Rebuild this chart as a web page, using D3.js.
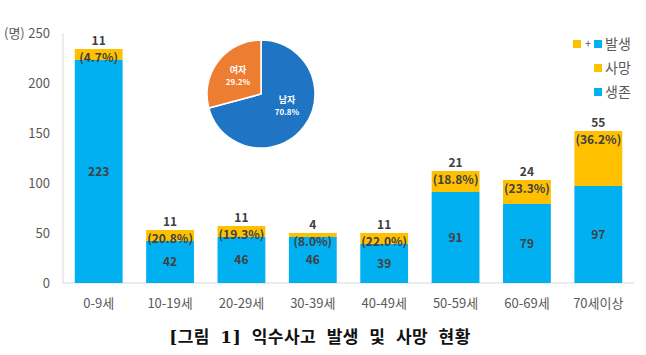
<!DOCTYPE html>
<html><head><meta charset="utf-8">
<script src="https://cdn.jsdelivr.net/npm/d3@7"></script>
<style>
html,body{margin:0;padding:0;background:#fff;}
svg{display:block;font-family:"Noto Sans CJK KR","Open Sans",sans-serif;}
</style></head>
<body>
<svg id="c" width="646" height="355"></svg>
<script>
const categories = ["0-9세","10-19세","20-29세","30-39세","40-49세","50-59세","60-69세","70세이상"];
const survived = [223,42,46,46,39,91,79,97];
const deaths = [11,11,11,4,11,21,24,55];
const deathRates = ["4.7%","20.8%","19.3%","8.0%","22.0%","18.8%","23.3%","36.2%"];
const yTicks = [0,50,100,150,200,250];
const genderLabels = ["남자","여자"];
const genderShares = [70.8,29.2];
const legendLabels = ["발생","사망","생존"];
const title = "[그림 1] 익수사고 발생 및 사망 현황";

const svg = d3.select("#c");
const blue = "#00B0F0", gold = "#FFC000", txt = "#404040", axisTxt = "#595959";

const x = d3.scaleBand().domain(categories).range([63,634]).paddingInner(0.33).paddingOuter(0.165);
const y = d3.scaleLinear().domain([0,250]).range([283,33]);

// axes
svg.append("line").attr("x1",63).attr("x2",63).attr("y1",y(250)).attr("y2",y(0)).attr("stroke","#d9d9d9");
svg.append("line").attr("x1",63).attr("x2",634).attr("y1",y(0)).attr("y2",y(0)).attr("stroke","#d9d9d9");
svg.selectAll(".yt").data(yTicks).join("text")
  .attr("x",50).attr("y",d=>y(d)).attr("dy","0.35em").attr("text-anchor","end")
  .attr("font-size",13).attr("fill",axisTxt).text(d=>d);
svg.append("text").attr("x",4).attr("y",y(250)).attr("dy","0.35em").attr("font-size",13).attr("fill",axisTxt).text("(명)");
svg.selectAll(".xt").data(categories).join("text")
  .attr("x",d=>x(d)+x.bandwidth()/2).attr("y",303).attr("dy","0.35em").attr("text-anchor","middle")
  .attr("font-size",13).attr("fill",axisTxt).text(d=>d);

// bars
const g = svg.append("g");
categories.forEach((c,i)=>{
  const bx = x(c), bw = x.bandwidth();
  const s = survived[i], d = deaths[i];
  g.append("rect").attr("x",bx).attr("width",bw).attr("y",y(s)).attr("height",y(0)-y(s)).attr("fill",blue);
  g.append("rect").attr("x",bx).attr("width",bw).attr("y",y(s+d)).attr("height",y(s)-y(s+d)).attr("fill",gold);
  const cx = bx+bw/2;
  g.append("text").attr("x",cx).attr("y",y(s/2)).attr("dy","0.35em").attr("text-anchor","middle")
    .attr("font-size",12).attr("font-weight","bold").attr("fill",txt).text(s);
  const top = y(s+d);
  g.append("text").attr("x",cx).attr("y",top-8).attr("dy","0.35em").attr("text-anchor","middle")
    .attr("font-size",12).attr("font-weight","bold").attr("fill",txt).text(d);
  g.append("text").attr("x",cx).attr("y",top+9).attr("dy","0.35em").attr("text-anchor","middle")
    .attr("font-size",12).attr("font-weight","bold").attr("fill",txt).text("("+deathRates[i]+")");
});

// pie
const pieColors = ["#1F74C4","#ED7D31"];
const pie = d3.pie().sort(null)(genderShares);
const arc = d3.arc().innerRadius(0).outerRadius(54);
const pg = svg.append("g").attr("transform","translate(261,94)");
pg.selectAll("path").data(pie).join("path").attr("d",arc).attr("fill",(d,i)=>pieColors[i])
  .attr("stroke","#fff").attr("stroke-width",1.5);
const labelPos = [[26,12],[-23,-18]];
pie.forEach((p,i)=>{
  pg.append("text").attr("x",labelPos[i][0]).attr("y",labelPos[i][1]-6).attr("dy","0.35em").attr("text-anchor","middle")
    .attr("font-size",9).attr("font-weight","bold").attr("fill","#fff").text(genderLabels[i]);
  pg.append("text").attr("x",labelPos[i][0]).attr("y",labelPos[i][1]+6).attr("dy","0.35em").attr("text-anchor","middle")
    .attr("font-size",8).attr("font-weight","bold").attr("fill","#fff").text(genderShares[i].toFixed(1)+"%");
});

// legend
const lg = svg.append("g");
const rows = [44,68,92];
lg.append("rect").attr("x",573).attr("y",rows[0]-4).attr("width",8).attr("height",8).attr("fill",gold);
lg.append("text").attr("x",588).attr("y",rows[0]).attr("dy","0.35em").attr("text-anchor","middle").attr("font-size",11).attr("fill",axisTxt).text("+");
lg.append("rect").attr("x",594).attr("y",rows[0]-4).attr("width",8).attr("height",8).attr("fill",blue);
lg.append("rect").attr("x",594).attr("y",rows[1]-4).attr("width",8).attr("height",8).attr("fill",gold);
lg.append("rect").attr("x",594).attr("y",rows[2]-4).attr("width",8).attr("height",8).attr("fill",blue);
legendLabels.forEach((l,i)=>{
  lg.append("text").attr("x",605).attr("y",rows[i]).attr("dy","0.35em").attr("font-size",14).attr("fill",axisTxt).text(l);
});

// title
svg.append("text").attr("x",320).attr("y",337).attr("dy","0.35em").attr("text-anchor","middle")
  .attr("font-size",17).attr("font-weight","bold").attr("fill","#111").attr("word-spacing",4).attr("letter-spacing",0.5)
  .style("font-family","'DejaVu Serif','Noto Sans CJK KR',serif").text(title);
</script>
</body></html>
